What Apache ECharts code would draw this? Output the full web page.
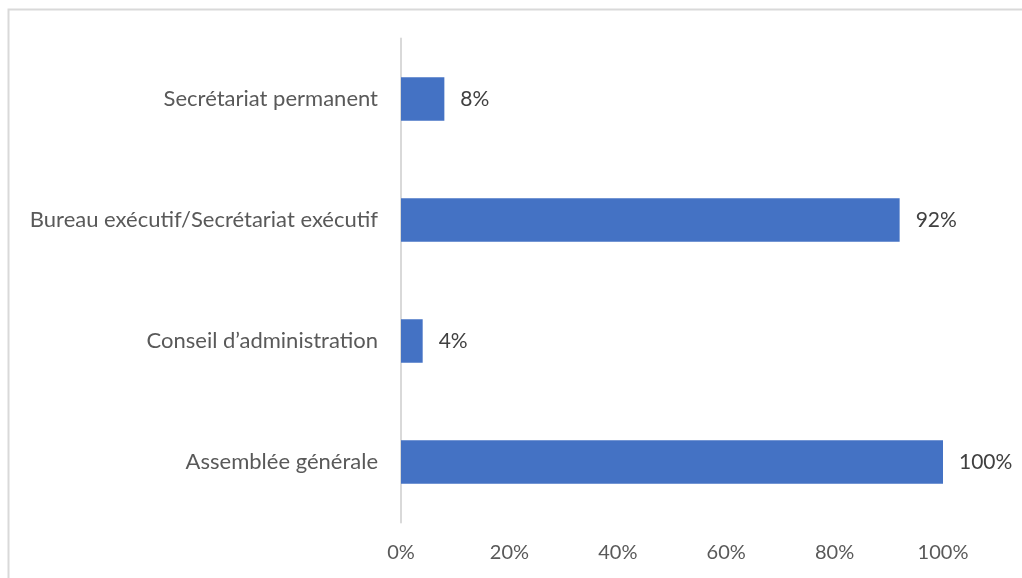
<!DOCTYPE html>
<html><head><meta charset="utf-8">
<script src="https://cdn.jsdelivr.net/npm/echarts@6/dist/echarts.min.js"></script>
<style>html,body{margin:0;padding:0;background:#fff}#c{width:1022px;height:578px}</style>
</head><body><div id="c"></div>
<script>
const categories = ["Assemblée générale", "Conseil d’administration", "Bureau exécutif/Secrétariat exécutif", "Secrétariat permanent"];
const values = [100, 4, 92, 8];
const xTicks = [0, 20, 40, 60, 80, 100];
const chart = echarts.init(document.getElementById('c'), null, {renderer: 'canvas'});
const font = "Lato, 'Open Sans', sans-serif";
chart.setOption({
  animation: false,
  graphic: [
    {type: 'polyline', shape: {points: [[8.5, 578], [8.5, 9.5], [1022, 9.5]]}, style: {stroke: '#d9d9d9', lineWidth: 2, fill: null}}
  ],
  grid: {left: 401, right: 79, top: 38.5, bottom: 55.5},
  xAxis: {
    type: 'value', min: 0, max: 100, interval: 20,
    axisLine: {show: false}, axisTick: {show: false}, splitLine: {show: false},
    axisLabel: {formatter: v => v + '%', color: '#595959', fontSize: 20, fontFamily: font, margin: 20}
  },
  yAxis: {
    type: 'category', data: categories,
    axisLine: {show: true, lineStyle: {color: '#d9d9d9', width: 2}},
    axisTick: {show: false},
    axisLabel: {color: '#595959', fontSize: 22, fontFamily: font, margin: 23}
  },
  series: [{
    type: 'bar', data: values, barWidth: '36%',
    itemStyle: {color: '#4472c4'},
    label: {show: true, position: 'right', distance: 16, formatter: p => p.value + '%', color: '#404040', fontSize: 21, fontFamily: font}
  }]
});
</script></body></html>
